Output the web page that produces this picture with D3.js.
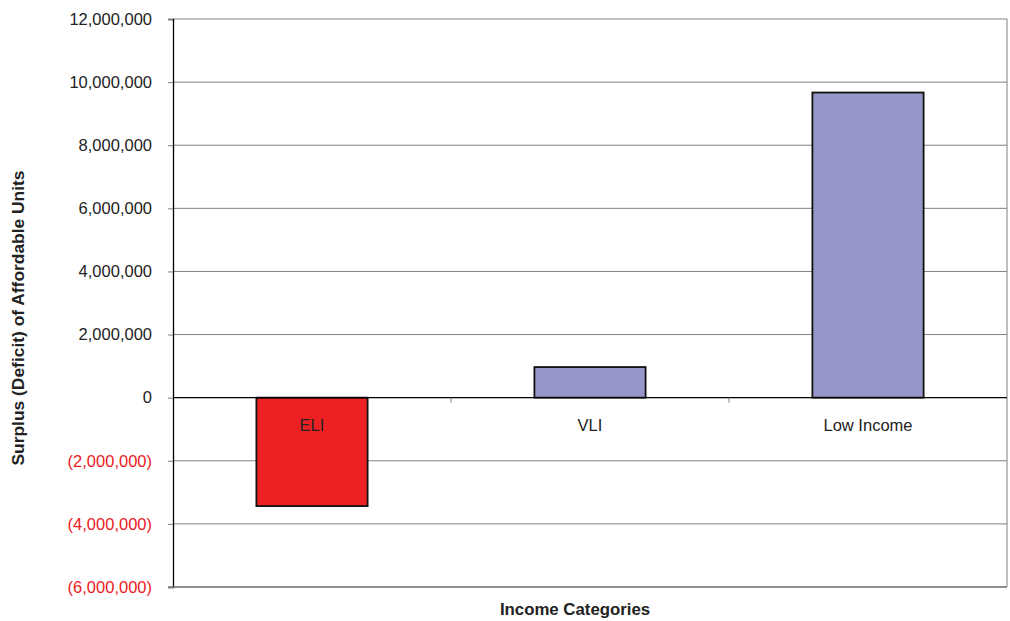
<!DOCTYPE html>
<html>
<head>
<meta charset="utf-8">
<script src="https://cdn.jsdelivr.net/npm/d3@7"></script>
<style>
  body { margin: 0; background: #fff; }
  svg text { font-family: "Liberation Sans", Arial, sans-serif; }
</style>
</head>
<body>
<script>
// chart data
var categories = ['ELI', 'VLI', 'Low Income'];
var surplus    = [-3435000, 970000, 9670000];
var barColors  = ['#ED2024', '#9696C8', '#9696C8'];
var yTicks     = [12000000, 10000000, 8000000, 6000000, 4000000, 2000000, 0, -2000000, -4000000, -6000000];

const WIDTH  = 1010;
const HEIGHT = 621;
const PLOT = { left: 173, right: 1007, top: 19, bottom: 587 };

var svg = d3.select('body').append('svg')
  .attr('width', WIDTH)
  .attr('height', HEIGHT);

var x = d3.scaleBand()
  .domain(categories)
  .range([PLOT.left, PLOT.right])
  .paddingInner(0.6)
  .paddingOuter(0.3);

var y = d3.scaleLinear()
  .domain([-6000000, 12000000])
  .range([PLOT.bottom, PLOT.top]);

var fmt = d3.format(',');
function label(v) {
  return v < 0 ? '(' + fmt(-v) + ')' : fmt(v);
}

// gridlines
svg.append('g')
  .selectAll('line')
  .data(yTicks.filter(function (v) { return v !== 0; }))
  .join('line')
    .attr('x1', PLOT.left)
    .attr('x2', PLOT.right)
    .attr('y1', function (d) { return y(d); })
    .attr('y2', function (d) { return y(d); })
    .attr('stroke', '#808080')
    .attr('stroke-width', 1);

// right border
svg.append('line')
  .attr('x1', PLOT.right).attr('x2', PLOT.right)
  .attr('y1', PLOT.top).attr('y2', PLOT.bottom)
  .attr('stroke', '#808080');

// bars
svg.append('g')
  .selectAll('rect')
  .data(categories)
  .join('rect')
    .attr('x', function (d) { return x(d); })
    .attr('width', x.bandwidth())
    .attr('y', function (d, i) { return y(Math.max(0, surplus[i])); })
    .attr('height', function (d, i) { return Math.abs(y(surplus[i]) - y(0)); })
    .attr('fill', function (d, i) { return barColors[i]; })
    .attr('stroke', '#111')
    .attr('stroke-width', 1.8);

// zero line + category ticks
svg.append('line')
  .attr('x1', PLOT.left).attr('x2', PLOT.right)
  .attr('y1', y(0)).attr('y2', y(0))
  .attr('stroke', '#000')
  .attr('stroke-width', 1.3);

var step = (PLOT.right - PLOT.left) / categories.length;
svg.append('g')
  .selectAll('line')
  .data(d3.range(1, categories.length))
  .join('line')
    .attr('x1', function (i) { return PLOT.left + i * step; })
    .attr('x2', function (i) { return PLOT.left + i * step; })
    .attr('y1', y(0))
    .attr('y2', y(0) + 5)
    .attr('stroke', '#808080');

// category labels
svg.append('g')
  .selectAll('text')
  .data(categories)
  .join('text')
    .attr('x', function (d) { return x(d) + x.bandwidth() / 2; })
    .attr('y', y(0) + 33)
    .attr('text-anchor', 'middle')
    .attr('font-size', 16.5)
    .attr('fill', '#222')
    .text(function (d) { return d; });

// y axis
var yAxis = svg.append('g')
  .attr('transform', 'translate(' + PLOT.left + ',0)')
  .call(d3.axisLeft(y).tickValues(yTicks).tickSize(5).tickPadding(16).tickFormat(label));

yAxis.select('.domain').attr('stroke', '#000').attr('stroke-width', 1.3);
yAxis.selectAll('.tick line').attr('stroke', '#808080');
yAxis.selectAll('.tick text')
  .attr('font-family', '"Liberation Sans", Arial, sans-serif')
  .attr('font-size', 16.5)
  .attr('fill', function (d) { return d < 0 ? '#ED2024' : '#222'; });

// bottom border
svg.append('line')
  .attr('x1', PLOT.left - 5).attr('x2', PLOT.right)
  .attr('y1', PLOT.bottom).attr('y2', PLOT.bottom)
  .attr('stroke', '#808080')
  .attr('stroke-width', 1.3);

// axis titles
svg.append('text')
  .attr('x', 575)
  .attr('y', 615)
  .attr('text-anchor', 'middle')
  .attr('font-size', 16.8)
  .attr('font-weight', 'bold')
  .attr('fill', '#222')
  .text('Income Categories');

svg.append('text')
  .attr('transform', 'translate(24,318) rotate(-90)')
  .attr('text-anchor', 'middle')
  .attr('font-size', 17.4)
  .attr('font-weight', 'bold')
  .attr('fill', '#222')
  .text('Surplus (Deficit) of Affordable Units');
</script>
</body>
</html>
